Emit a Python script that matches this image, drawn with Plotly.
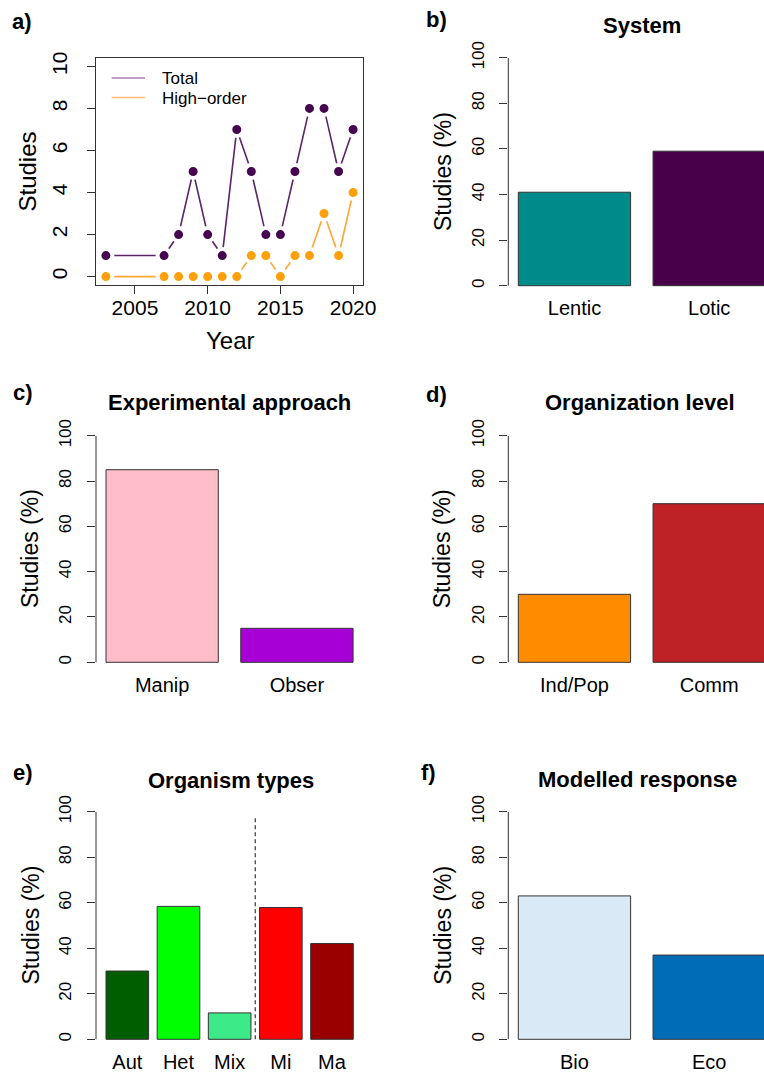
import plotly.graph_objects as go

# ---------------- data ----------------
years = [2003, 2007, 2008, 2009, 2010, 2011, 2012, 2013, 2014, 2015, 2016, 2017, 2018, 2019, 2020]
total_studies = [1, 1, 2, 5, 2, 1, 7, 5, 2, 2, 5, 8, 8, 5, 7]
high_order_studies = [0, 0, 0, 0, 0, 0, 0, 1, 1, 0, 1, 1, 3, 1, 4]
year_ticks = [2005, 2010, 2015, 2020]
count_ticks = [0, 2, 4, 6, 8, 10]
pct_ticks = [0, 20, 40, 60, 80, 100]

system_cats = ["Lentic", "Lotic"]
system_vals = [41, 59]
approach_cats = ["Manip", "Obser"]
approach_vals = [85, 15]
org_level_cats = ["Ind/Pop", "Comm"]
org_level_vals = [30, 70]
organism_cats = ["Aut", "Het", "Mix", "Mi", "Ma"]
organism_vals = [30, 58.4, 11.6, 57.9, 42.1]
response_cats = ["Bio", "Eco"]
response_vals = [63, 37]

# ---------------- styles ----------------
system_cols = ["#008B8B", "#48004B"]
approach_cols = ["#FFBCC9", "#A700D6"]
org_level_cols = ["#FF8C00", "#BE2126"]
organism_cols = ["#005E00", "#00FF00", "#3CEB87", "#FF0000", "#9A0000"]
response_cols = ["#D9EAF6", "#006CB7"]

W, H = 764, 1072
FONT = "Liberation Sans, Arial, sans-serif"
AX = "#333333"


def px(x):
    return x / W


def py(y):
    return 1 - y / H


fig = go.Figure()

# ---------------- panel a ----------------
fig.add_trace(go.Scatter(
    x=years, y=total_studies, mode="lines+markers", xaxis="x", yaxis="y",
    line=dict(color="#5C2468", width=1.6),
    marker=dict(color="#45054F", size=13, line=dict(color="white", width=4)),
    showlegend=False))
fig.add_trace(go.Scatter(
    x=years, y=high_order_studies, mode="lines+markers", xaxis="x", yaxis="y",
    line=dict(color="#FFA530", width=1.6),
    marker=dict(color="#FF9F0A", size=13, line=dict(color="white", width=4)),
    showlegend=False))

layout = dict(
    width=W, height=H, margin=dict(l=0, r=0, t=0, b=0, autoexpand=False),
    paper_bgcolor="white", plot_bgcolor="white",
    font=dict(family=FONT, color="black"),
    showlegend=False,
)

layout["xaxis"] = dict(
    domain=[px(96), px(363)], range=[2002.32, 2020.68], anchor="y",
    tickvals=year_ticks, ticks="outside", ticklen=8, tickcolor=AX,
    showline=True, mirror=True, linecolor=AX, linewidth=1,
    showgrid=False, zeroline=False, tickfont=dict(size=21, family=FONT),
    ticklabelstandoff=-4, automargin=False)
layout["yaxis"] = dict(
    domain=[py(285), py(58)], range=[-0.4, 10.4], anchor="x",
    tickvals=count_ticks, ticks="outside", ticklen=8, tickcolor=AX,
    tickangle=-90, showline=True, mirror=True, linecolor=AX, linewidth=1,
    showgrid=False, zeroline=False, tickfont=dict(size=21, family=FONT),
    ticklabelstandoff=12, automargin=False)

shapes = []
annotations = []

# legend of panel a
for yy, col, label in [(78, "#A97DB3", "Total"), (97.5, "#FFBC70", "High\u2212order")]:
    shapes.append(dict(type="line", xref="paper", yref="paper",
                       x0=px(111.7), x1=px(145), y0=py(yy), y1=py(yy),
                       line=dict(color=col, width=1.6)))
    annotations.append(dict(text=label, xref="paper", yref="paper", x=px(160), y=py(yy + 1),
                            xanchor="left", yanchor="middle", showarrow=False,
                            font=dict(size=17, family=FONT)))

annotations.append(dict(text="Studies", xref="paper", yref="paper", x=px(27.5), y=py(172),
                        textangle=-90, xanchor="center", yanchor="middle", showarrow=False,
                        font=dict(size=24, family=FONT)))
annotations.append(dict(text="Year", xref="paper", yref="paper", x=px(230), y=py(340),
                        xanchor="center", yanchor="middle", showarrow=False,
                        font=dict(size=24, family=FONT)))

# ---------------- bar panels ----------------
panels = [
    (2, system_cats, system_vals, system_cols, 508.3, 764, 285.7, 57.7, [-0.4909, 1.4066],
     "System", (642, 26), "b)", (436.5, 19.5)),
    (3, approach_cats, approach_vals, approach_cols, 96, 363, 662.3, 435.7, [-0.4909, 1.4904],
     "Experimental approach", (229, 402), "c)", (23, 392)),
    (4, org_level_cats, org_level_vals, org_level_cols, 508.3, 764, 662.3, 435.7, [-0.4909, 1.4066],
     "Organization level", (640, 402), "d)", (436, 394)),
    (5, organism_cats, organism_vals, organism_cols, 96, 363, 1039.3, 811.7, [-0.6121, 4.606],
     "Organism types", (231, 780), "e)", (22.5, 772)),
    (6, response_cats, response_vals, response_cols, 508.3, 764, 1039.3, 811.7, [-0.4909, 1.4066],
     "Modelled response", (637, 779), "f)", (428, 772)),
]

for idx, cats, vals, cols, xl, xr, z0, z100, xrange, title, txy, lab, lxy in panels:
    xa, ya = f"x{idx}", f"y{idx}"
    fig.add_trace(go.Bar(
        x=cats, y=vals, xaxis=xa, yaxis=ya, width=1 / 1.2,
        marker=dict(color=cols, line=dict(color=AX, width=1)),
        showlegend=False))
    per = (z0 - z100) / 100.0
    bottom_px = z0 + per * 1.0
    layout[f"xaxis{idx}"] = dict(
        domain=[px(xl), px(xr)], range=xrange, anchor=ya, type="category",
        ticks="", showline=False, showgrid=False, zeroline=False,
        tickfont=dict(size=20, family=FONT), ticklabelstandoff=6, automargin=False)
    layout[f"yaxis{idx}"] = dict(
        domain=[py(bottom_px), py(z100)], range=[-1, 100], anchor=xa,
        tickvals=pct_ticks, ticks="outside", ticklen=8, tickcolor=AX,
        tickangle=-90, showline=False, showgrid=False, zeroline=False,
        tickfont=dict(size=17, family=FONT), ticklabelstandoff=9, automargin=False)
    shapes.append(dict(type="line", xref=f"{xa} domain", yref=ya, x0=0, x1=0, y0=0, y1=100,
                       line=dict(color=AX, width=1)))
    annotations.append(dict(text=f"<b>{title}</b>", xref="paper", yref="paper",
                            x=px(txy[0]), y=py(txy[1]), xanchor="center", yanchor="middle",
                            showarrow=False, font=dict(size=22, family=FONT)))
    annotations.append(dict(text="Studies (%)", xref="paper", yref="paper",
                            x=px(xl - 66), y=py((z0 + z100) / 2), textangle=-90,
                            xanchor="center", yanchor="middle", showarrow=False,
                            font=dict(size=23, family=FONT)))

# panel labels
annotations.append(dict(text="<b>a)</b>", xref="paper", yref="paper", x=px(22), y=py(21),
                        xanchor="center", yanchor="middle", showarrow=False,
                        font=dict(size=22, family=FONT)))
for idx, cats, vals, cols, xl, xr, z0, z100, xrange, title, txy, lab, lxy in panels:
    annotations.append(dict(text=f"<b>{lab}</b>", xref="paper", yref="paper",
                            x=px(lxy[0]), y=py(lxy[1]), xanchor="center", yanchor="middle",
                            showarrow=False, font=dict(size=22, family=FONT)))

# dashed separator between the trophic-group bars and the size-group bars in panel e
separator_pos = (organism_cats.index("Mix") + organism_cats.index("Mi")) / 2
shapes.append(dict(type="line", xref="x5", yref="y5", x0=separator_pos, x1=separator_pos,
                   y0=0, y1=98, line=dict(color=AX, width=1.2, dash="4px,3px")))

layout["shapes"] = shapes
layout["annotations"] = annotations
fig.update_layout(**layout)

fig.write_html(
    "out.html",
    config={"displayModeBar": False},
    post_script="document.body.style.margin='0';document.body.style.overflow='hidden';",
)
